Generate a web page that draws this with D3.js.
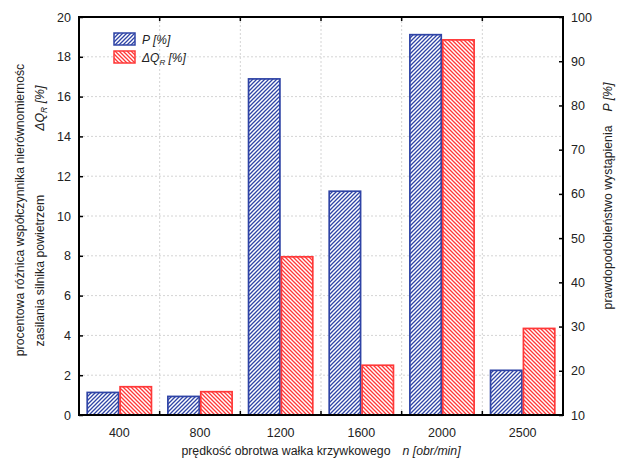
<!DOCTYPE html>
<html lang="pl">
<head>
<meta charset="utf-8">
<script src="https://d3js.org/d3.v7.min.js"></script>
<style>
  body { margin: 0; background: #fff; }
  text { font-family: "Liberation Sans", Arial, sans-serif; fill: #222; }
</style>
</head>
<body>
<div id="chart"></div>
<script>
// data
var speeds = ["400", "800", "1200", "1600", "2000", "2500"];
var pValues = [15.1, 14.2, 86.0, 60.6, 96.0, 20.1];     // P [%], right axis
var dqValues = [1.42, 1.17, 7.95, 2.5, 18.85, 4.35];     // dQR [%], left axis
var leftTicks = [0, 2, 4, 6, 8, 10, 12, 14, 16, 18, 20];
var rightTicks = [10, 20, 30, 40, 50, 60, 70, 80, 90, 100];

var W = 619, H = 462;
var m = {left: 79, right: 56, top: 17, bottom: 47};
var x0 = m.left, x1 = W - m.right, y0 = H - m.bottom, y1 = m.top;

var svg = d3.select("#chart").append("svg")
  .attr("width", W).attr("height", H);

var defs = svg.append("defs");
function hatch(id, color, dir) {
  var p = defs.append("pattern")
    .attr("id", id).attr("patternUnits", "userSpaceOnUse")
    .attr("width", 4).attr("height", 4);
  p.append("rect").attr("width", 4).attr("height", 4).attr("fill", "#fff");
  var d = dir > 0 ? "M-1,1 l2,-2 M0,4 l4,-4 M3,5 l2,-2" : "M-1,3 l2,2 M0,0 l4,4 M3,-1 l2,2";
  p.append("path").attr("d", d).attr("stroke", color).attr("stroke-width", 1.3);
}
var blue = "#2f44a6", red = "#ff3838";
hatch("hb", blue, 1);
hatch("hr", red, -1);

var x = d3.scaleBand().domain(speeds).range([x0, x1])
  .paddingInner(0.185).paddingOuter(0.0925);
var xs = d3.scaleBand().domain(["P", "Q"]).range([0, x.bandwidth()]);
var yL = d3.scaleLinear().domain([0, 20]).range([y0, y1]);
var yR = d3.scaleLinear().domain([10, 100]).range([y0, y1]);

// grid
var grid = svg.append("g").attr("stroke", "#d4d4d4").attr("stroke-dasharray", "2,2");
grid.selectAll("line.h").data(leftTicks.slice(1, -1)).enter().append("line")
  .attr("x1", x0).attr("x2", x1).attr("y1", d => yL(d)).attr("y2", d => yL(d));
var bounds = speeds.slice(1).map(s => x(s) - x.step() * x.paddingInner() / 2);
grid.selectAll("line.v").data(bounds).enter().append("line")
  .attr("x1", d => d).attr("x2", d => d).attr("y1", y0).attr("y2", y1);

// bars
var g = svg.append("g");
g.selectAll("rect.p").data(speeds).enter().append("rect")
  .attr("x", (d) => x(d) + xs("P") + 0.75)
  .attr("width", xs.bandwidth() - 1.5)
  .attr("y", (d, i) => yR(pValues[i]))
  .attr("height", (d, i) => y0 - yR(pValues[i]))
  .attr("fill", "url(#hb)").attr("stroke", blue).attr("stroke-width", 1.7);
g.selectAll("rect.q").data(speeds).enter().append("rect")
  .attr("x", (d) => x(d) + xs("Q") + 0.75)
  .attr("width", xs.bandwidth() - 1.5)
  .attr("y", (d, i) => yL(dqValues[i]))
  .attr("height", (d, i) => y0 - yL(dqValues[i]))
  .attr("fill", "url(#hr)").attr("stroke", red).attr("stroke-width", 1.7);

// axes
var axL = svg.append("g").attr("transform", "translate(" + x0 + ",0)")
  .call(d3.axisLeft(yL).tickValues(leftTicks).tickSizeInner(-4).tickSizeOuter(0).tickPadding(8));
var axR = svg.append("g").attr("transform", "translate(" + x1 + ",0)")
  .call(d3.axisRight(yR).tickValues(rightTicks).tickSizeInner(-4).tickSizeOuter(0).tickPadding(8));
var axB = svg.append("g").attr("transform", "translate(0," + y0 + ")")
  .call(d3.axisBottom(x).tickSize(0).tickPadding(13));
[axL, axR, axB].forEach(function (a) {
  a.select(".domain").remove();
  a.selectAll("line").attr("stroke", "#000").attr("stroke-width", 1.5);
  a.selectAll("text").style("font-size", "12.5px").attr("fill", "#222");
});
svg.append("g").selectAll("line").data(bounds).enter().append("line")
  .attr("x1", d => d).attr("x2", d => d).attr("y1", y0).attr("y2", y0 - 4)
  .attr("stroke", "#000").attr("stroke-width", 1.5);
svg.append("g").selectAll("line").data(bounds).enter().append("line")
  .attr("x1", d => d).attr("x2", d => d).attr("y1", y1).attr("y2", y1 + 4)
  .attr("stroke", "#000").attr("stroke-width", 1.5);

// frame
svg.append("rect").attr("x", x0).attr("y", y1)
  .attr("width", x1 - x0).attr("height", y0 - y1)
  .attr("fill", "none").attr("stroke", "#000").attr("stroke-width", 2);

// axis titles
var midY = (y0 + y1) / 2;
var fs = "12.3px";
svg.append("text").attr("transform", "translate(24," + (midY - 6) + ") rotate(-90)")
  .attr("text-anchor", "middle").style("font-size", fs)
  .text("procentowa różnica współczynnika nierównomiernośc");
var t2 = svg.append("text").attr("transform", "translate(44," + (midY) + ") rotate(-90)")
  .attr("text-anchor", "middle").style("font-size", fs);
t2.append("tspan").text("zasilania silnika powietrzem");
t2.append("tspan").attr("dx", 64).style("font-style", "italic").text("ΔQ");
t2.append("tspan").attr("dy", 3).style("font-size", "8.5px").style("font-style", "italic").text("R");
t2.append("tspan").attr("dy", -3).style("font-style", "italic").text(" [%]");

var t3 = svg.append("text").attr("transform", "translate(612," + (midY - 20) + ") rotate(-90)")
  .attr("text-anchor", "middle").style("font-size", fs);
t3.append("tspan").text("prawdopodobieństwo wystąpienia");
t3.append("tspan").attr("dx", 14).style("font-style", "italic").text("P [%]");

var t4 = svg.append("text").attr("x", (x0 + x1) / 2).attr("y", 455)
  .attr("text-anchor", "middle").style("font-size", fs);
t4.append("tspan").text("prędkość obrotwa wałka krzywkowego");
t4.append("tspan").attr("dx", 12).style("font-style", "italic").text("n [obr/min]");

// legend
var leg = svg.append("g");
leg.append("rect").attr("x", 114).attr("y", 33).attr("width", 21).attr("height", 12)
  .attr("fill", "url(#hb)").attr("stroke", blue).attr("stroke-width", 1.5);
leg.append("rect").attr("x", 114).attr("y", 51).attr("width", 21).attr("height", 12)
  .attr("fill", "url(#hr)").attr("stroke", red).attr("stroke-width", 1.5);
leg.append("text").attr("x", 142).attr("y", 44).style("font-size", "12px")
  .style("font-style", "italic").text("P [%]");
var lt = leg.append("text").attr("x", 142).attr("y", 62).style("font-size", "12px")
  .style("font-style", "italic");
lt.append("tspan").text("ΔQ");
lt.append("tspan").attr("dy", 3).style("font-size", "8px").text("R");
lt.append("tspan").attr("dy", -3).text(" [%]");
</script>
</body>
</html>
